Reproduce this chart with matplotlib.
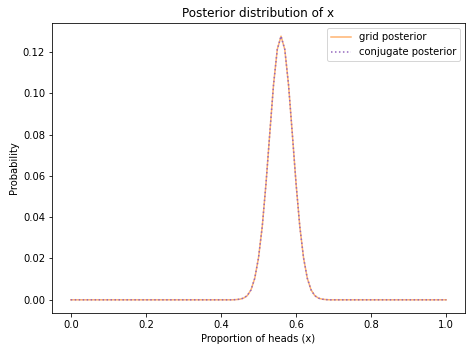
import matplotlib
matplotlib.use("Agg")
import matplotlib.pyplot as plt
import numpy as np

# Grid of proportions (0.00 .. 1.00 step 0.01)
xs = np.linspace(0, 1, 101)

# Posterior probabilities (nonzero part, x = 0.44 .. 0.68)
peak_x = [0.44, 0.45, 0.46, 0.47, 0.48, 0.49, 0.50, 0.51, 0.52, 0.53, 0.54,
          0.55, 0.56, 0.57, 0.58, 0.59, 0.60, 0.61, 0.62, 0.63, 0.64, 0.65,
          0.66, 0.67, 0.68]
grid_vals = [0.0001, 0.0003, 0.0008, 0.0020, 0.0048, 0.0104, 0.0203, 0.0355,
             0.0563, 0.0805, 0.1040, 0.1212, 0.1276, 0.1212, 0.1040, 0.0805,
             0.0563, 0.0355, 0.0203, 0.0104, 0.0048, 0.0020, 0.0008, 0.0003,
             0.0001]
conj_vals = list(grid_vals)

grid_post = np.zeros_like(xs)
conj_post = np.zeros_like(xs)
for px, g, c in zip(peak_x, grid_vals, conj_vals):
    i = int(round(px * 100))
    grid_post[i] = g
    conj_post[i] = c

fig = plt.figure(figsize=(472 / 72, 352 / 72), dpi=72)
ax = fig.add_axes([52 / 472, 1 - 313 / 352, (465 - 52) / 472, (313 - 23) / 352])

ax.plot(xs, grid_post, color="C1", alpha=0.6, label="grid posterior")
ax.plot(xs, conj_post, ":", color="C4", label="conjugate posterior")

ax.set_title("Posterior distribution of x")
ax.set_xlabel("Proportion of heads (x)")
ax.set_ylabel("Probability")
ax.legend(loc="upper right")

fig.savefig("out.png", dpi=72)
